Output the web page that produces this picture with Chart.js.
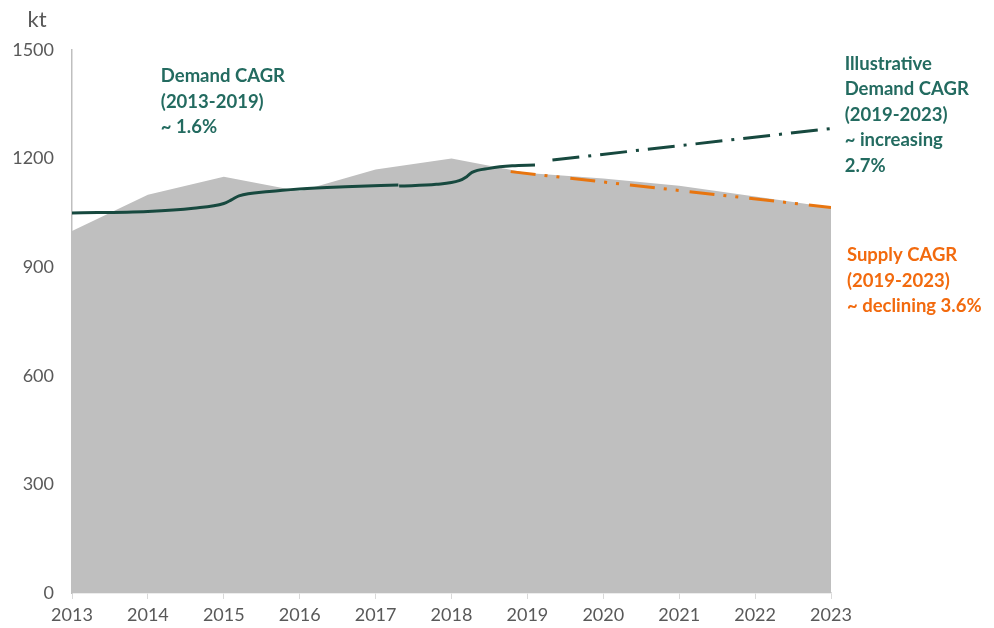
<!DOCTYPE html>
<html>
<head>
<meta charset="utf-8">
<script src="https://cdn.jsdelivr.net/npm/chart.js@4"></script>
<style>
  html, body { margin: 0; padding: 0; background: #fff; }
  #wrap { width: 994px; height: 628px; }
</style>
</head>
<body>
<div id="wrap"><canvas id="areaChart" width="994" height="628"></canvas></div>
<script>
// values (kt)
var years = [2013, 2014, 2015, 2016, 2017, 2018, 2019, 2020, 2021, 2022, 2023];
var supply = [1000, 1100, 1150, 1110, 1170, 1200, 1160, 1145, 1125, 1095, 1065];

// hand-drawn demand trend 2013-2019 (null = small break in the line)
var demandX = [2013, 2014, 2014.6, 2015, 2015.1, 2015.2, 2015.6, 2016, 2016.6, 2017.3, 2017.305, 2017.31, 2017.8, 2018.1, 2018.2, 2018.27, 2018.5, 2018.8, 2019.1];
var demandY = [1050, 1054, 1063, 1076, 1086, 1097, 1109, 1116, 1122, 1127, null, 1124, 1129, 1139, 1150, 1162, 1173, 1180, 1182];

// projections 2019-2023
var demandProjX = [2019.33, 2023];
var demandProjY = [1196, 1283];
var supplyProjX = [2018.78, 2023];
var supplyProjY = [1164, 1065];

var yTicks = [0, 300, 600, 900, 1200, 1500];

// annotation text blocks: [x year, y value of first line, colour, lines]
var notes = [
  { x: 2014.17, y: 1428, color: "#236B60", lines: ["Demand CAGR", "(2013-2019)", "~ 1.6%"] },
  { x: 2023.18, y: 1462, color: "#236B60", lines: ["Illustrative", "Demand CAGR", "(2019-2023)", "~ increasing", "2.7%"] },
  { x: 2023.21, y: 933, color: "#F26A0E", lines: ["Supply CAGR", "(2019-2023)", "~ declining 3.6%"] },
];

function pts(xs, ys) {
  return xs.map(function (x, i) { return { x: x, y: ys[i] }; });
}

var notePlugin = {
  id: "notes",
  afterDraw: function (chart) {
    var ctx = chart.ctx;
    var xs = chart.scales.x, ys = chart.scales.y;
    ctx.save();
    ctx.textBaseline = "middle";
    ctx.textAlign = "left";
    ctx.font = "bold 18.5px Lato";
    notes.forEach(function (n) {
      ctx.fillStyle = n.color;
      var px = xs.getPixelForValue(n.x);
      var py = ys.getPixelForValue(n.y);
      n.lines.forEach(function (t, i) {
        ctx.fillText(t, px, py + i * 25.5);
      });
    });
    // unit label above the y axis
    ctx.fillStyle = "#595959";
    ctx.font = "22px Lato";
    ctx.textAlign = "center";
    ctx.fillText("kt", 37, 20);
    ctx.restore();
  },
};

var ctx = document.getElementById("areaChart").getContext("2d");

var chartData = {
  datasets: [
    {
      label: "Demand",
      data: pts(demandX, demandY),
      borderColor: "#17493F",
      borderWidth: 3,
      cubicInterpolationMode: "monotone",
      spanGaps: false,
      pointRadius: 0,
      fill: false,
      order: 1,
    },
    {
      label: "Demand projection",
      data: pts(demandProjX, demandProjY),
      borderColor: "#17493F",
      borderWidth: 3,
      borderDash: [27, 9, 3, 9],
      pointRadius: 0,
      fill: false,
      order: 2,
    },
    {
      label: "Supply projection",
      data: pts(supplyProjX, supplyProjY),
      borderColor: "#E8750F",
      borderWidth: 3,
      borderDash: [25, 9, 3, 9, 3, 11],
      pointRadius: 0,
      fill: false,
      order: 3,
    },
    {
      label: "Supply",
      data: pts(years, supply),
      backgroundColor: "#BFBFBF",
      borderWidth: 0,
      pointRadius: 0,
      fill: "origin",
      tension: 0,
      order: 10,
    },
  ],
};

var chartOptions = {
  responsive: false,
  animation: false,
  layout: { padding: { left: 0, top: 50, right: 163, bottom: 0 } },
  scales: {
    x: {
      type: "linear",
      min: 2013,
      max: 2023,
      afterBuildTicks: function (s) {
        s.ticks = years.map(function (v) { return { value: v }; });
      },
      afterFit: function (s) { s.height = 35; },
      ticks: {
        callback: function (v) { return String(v); },
        color: "#595959",
        font: { family: "Lato", size: 18 },
        padding: 5,
        maxRotation: 0,
      },
      grid: { drawOnChartArea: false, drawTicks: true, tickLength: 6, color: "#D9D9D9" },
      border: { color: "#D9D9D9", width: 1.5 },
    },
    y: {
      min: 0,
      max: 1500,
      afterBuildTicks: function (s) {
        s.ticks = yTicks.map(function (v) { return { value: v }; });
      },
      afterFit: function (s) { s.width = 72; },
      ticks: {
        callback: function (v) { return String(v); },
        color: "#595959",
        font: { family: "Lato", size: 18 },
        padding: 18,
      },
      grid: { drawOnChartArea: false, drawTicks: false },
      border: { color: "#BFBFBF", width: 1.5 },
    },
  },
  plugins: {
    legend: { display: false },
    tooltip: { enabled: false },
  },
};

var myChart = new Chart(ctx, {
  type: "line",
  data: chartData,
  options: chartOptions,
  plugins: [notePlugin],
});
</script>
</body>
</html>
